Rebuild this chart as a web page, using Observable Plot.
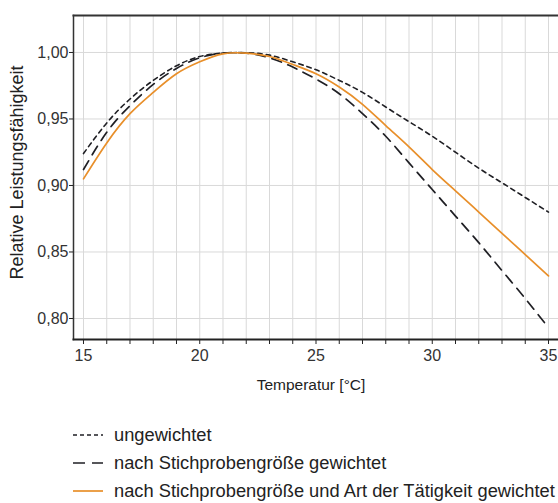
<!DOCTYPE html>
<html>
<head>
<meta charset="utf-8">
<script src="https://cdn.jsdelivr.net/npm/d3@7"></script>
<script src="https://cdn.jsdelivr.net/npm/@observablehq/plot@0.6"></script>
<style>
  html, body { margin: 0; padding: 0; background: #fff; }
  body { width: 558px; height: 503px; overflow: hidden; position: relative; font-family: "Liberation Sans", Arial, sans-serif; }
  #chart { position: absolute; left: 0; top: 0; }
  .row { position: absolute; left: 0; height: 20px; display: flex; align-items: center; font-size: 18.3px; color: #222; white-space: nowrap; }
  .row svg { margin-left: 73px; margin-right: 11px; }
</style>
</head>
<body>
<div id="chart"></div>
<div id="legend"></div>
<script>
const temperatures = [15,16,17,18,19,20,21,22,23,24,25,26,27,28,29,30,31,32,33,34,35];
const ungewichtet = [0.924,0.947,0.965,0.979,0.990,0.997,0.9995,0.9998,0.998,0.993,0.987,0.979,0.970,0.959,0.948,0.937,0.925,0.913,0.902,0.891,0.880];
const nachStichprobe = [0.912,0.940,0.960,0.976,0.988,0.996,0.9995,0.9995,0.996,0.989,0.980,0.969,0.954,0.937,0.917,0.897,0.877,0.857,0.836,0.815,0.793];
const nachStichprobeArt = [0.905,0.932,0.954,0.970,0.984,0.993,0.999,0.9995,0.997,0.991,0.984,0.974,0.961,0.945,0.929,0.912,0.896,0.880,0.864,0.848,0.832];
const seriesNames = ["ungewichtet", "nach Stichprobengröße gewichtet", "nach Stichprobengröße und Art der Tätigkeit gewichtet"];
const xTicks = [15,16,17,18,19,20,21,22,23,24,25,26,27,28,29,30,31,32,33,34,35];
const xLabelTicks = [15,20,25,30,35];
const yTicks = [0.80,0.85,0.90,0.95,1.00];

const styles = [
  {stroke: "#1f1f24", dash: "4.5,4", legendDash: "4,3", width: 1.6},
  {stroke: "#1f1f24", dash: "10,7", legendDash: "12,7", width: 1.7},
  {stroke: "#e88f2a", dash: null, legendDash: null, width: 1.7}
];
const seriesValues = [ungewichtet, nachStichprobe, nachStichprobeArt];

const fmt = d => d3.format(".2f")(d).replace(".", ",");

const lineMarks = seriesValues.map((vals, i) => {
  const data = temperatures.map((t, j) => ({t, v: vals[j]}));
  return Plot.line(data, {x: "t", y: "v", curve: "natural", stroke: styles[i].stroke,
    strokeWidth: styles[i].width, strokeDasharray: styles[i].dash || undefined});
});

const chart = Plot.plot({
  width: 558,
  height: 405,
  marginTop: 15,
  marginBottom: 66,
  marginLeft: 73,
  marginRight: 0,
  style: {fontFamily: "Liberation Sans, Arial, sans-serif", fontSize: "16px", color: "#333", background: "#fff"},
  x: {domain: [14.57, 35.43]},
  y: {domain: [0.7842, 1.0278]},
  marks: [
    Plot.ruleX(xTicks, {stroke: "#d9d9d9", strokeWidth: 1}),
    Plot.ruleY(yTicks, {stroke: "#d9d9d9", strokeWidth: 1}),
    Plot.frame({anchor: "top", stroke: "#333", strokeWidth: 2}),
    Plot.frame({anchor: "left", stroke: "#333", strokeWidth: 1.5}),
    Plot.frame({anchor: "bottom", stroke: "#222", strokeWidth: 2}),
    Plot.axisX(xTicks, {tickSize: 5, tickFormat: d => xLabelTicks.includes(d) ? String(d) : "", tickPadding: 5, fontSize: 16, label: null, stroke: "#222", fill: "#333"}),
    Plot.axisY(yTicks, {tickSize: 4, tickPadding: 1, tickFormat: fmt, fontSize: 16, label: null, stroke: "#222", fill: "#333"}),
    Plot.text(["Temperatur [°C]"], {frameAnchor: "bottom", dx: -5, dy: 50, fontSize: 15.5, fill: "#222"}),
    Plot.text(["Relative Leistungsfähigkeit"], {frameAnchor: "left", textAnchor: "middle", dx: -56, dy: -5, rotate: -90, fontSize: 18, fill: "#222"}),
    ...lineMarks
  ]
});
document.getElementById("chart").appendChild(chart);

const legend = document.getElementById("legend");
const rowCenters = [435, 463, 491];
seriesNames.forEach((name, i) => {
  const row = document.createElement("div");
  row.className = "row";
  row.style.top = (rowCenters[i] - 10) + "px";
  const s = styles[i];
  const svgNS = "http://www.w3.org/2000/svg";
  const svg = document.createElementNS(svgNS, "svg");
  svg.setAttribute("width", 30); svg.setAttribute("height", 10);
  const line = document.createElementNS(svgNS, "line");
  line.setAttribute("x1", 0); line.setAttribute("x2", 30);
  line.setAttribute("y1", 5); line.setAttribute("y2", 5);
  line.setAttribute("stroke", s.stroke);
  line.setAttribute("stroke-width", s.width);
  if (s.legendDash) line.setAttribute("stroke-dasharray", s.legendDash);
  svg.appendChild(line);
  const span = document.createElement("span");
  span.textContent = name;
  row.appendChild(svg); row.appendChild(span);
  legend.appendChild(row);
});
</script>
</body>
</html>
